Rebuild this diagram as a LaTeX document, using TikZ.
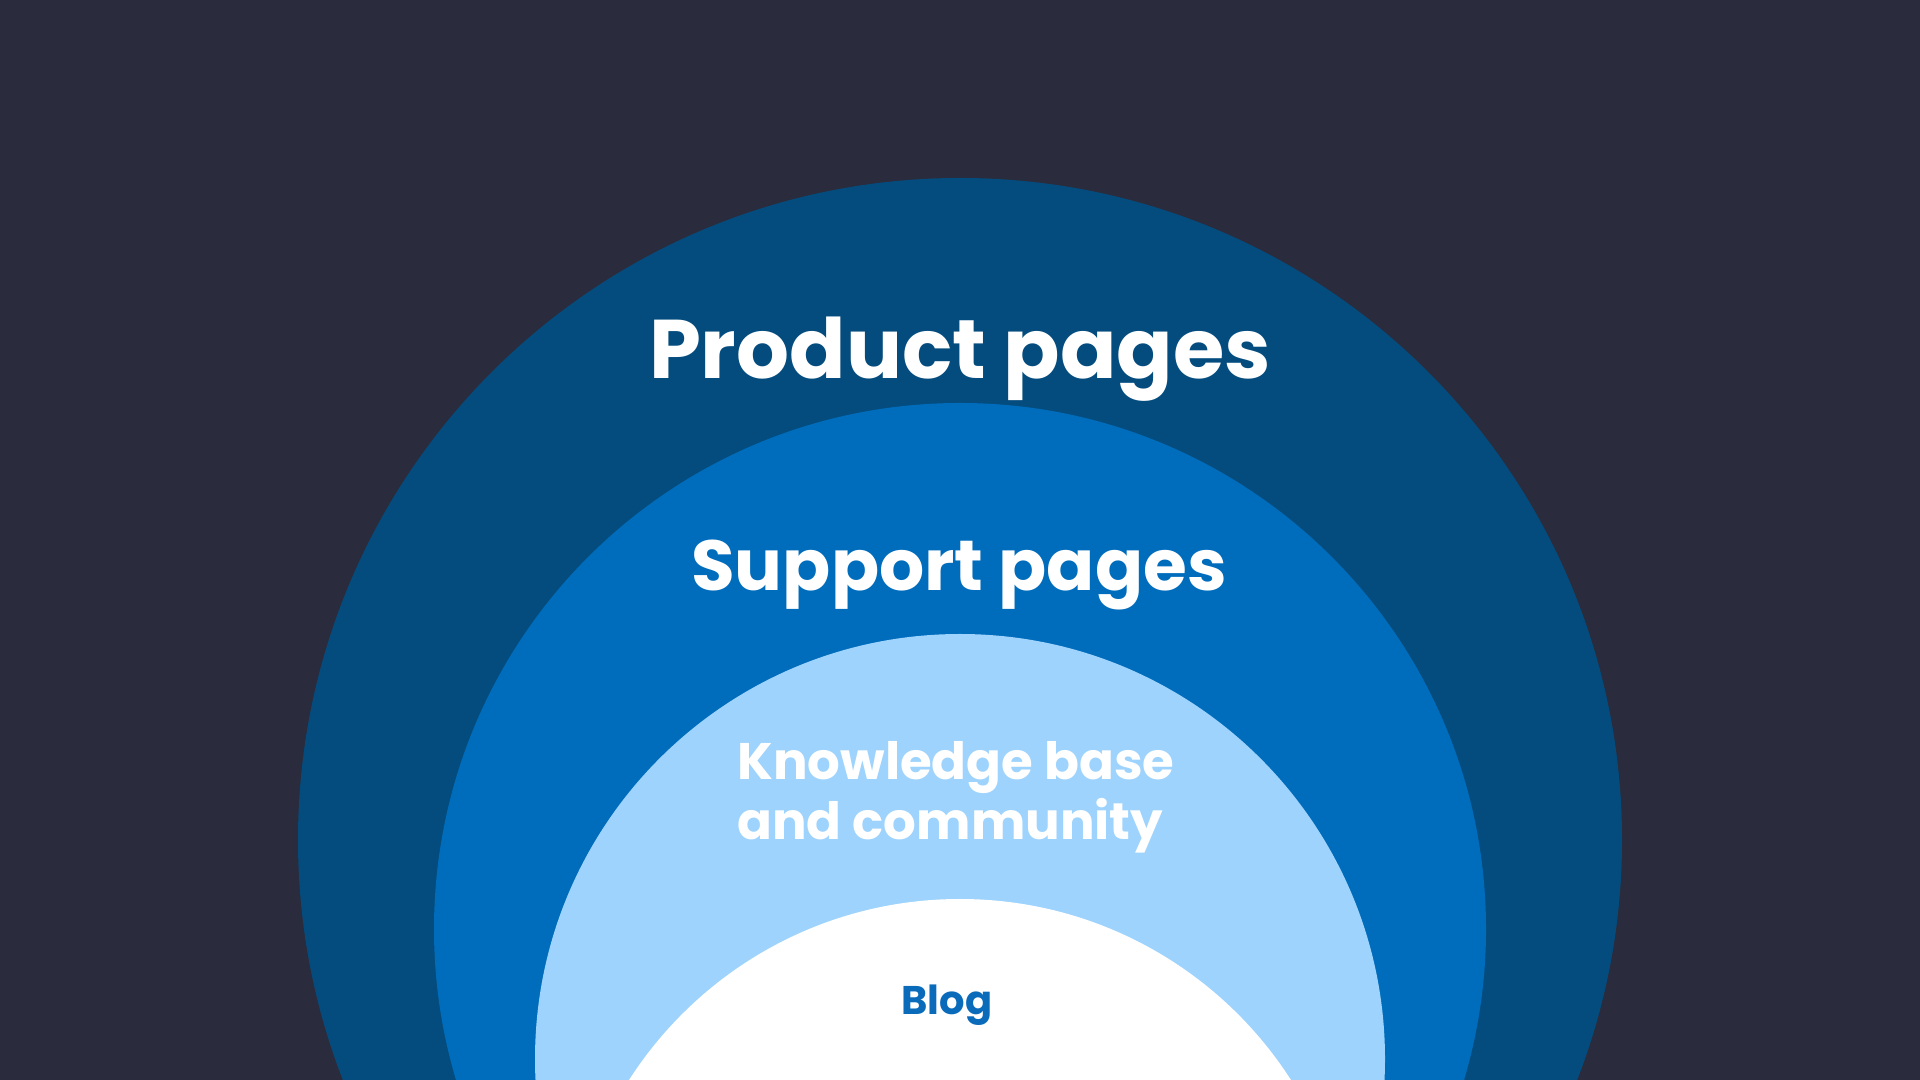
\documentclass[tikz,border=0pt]{standalone}
\usepackage{fontspec}
\setmainfont{Poppins}
\definecolor{bgdark}{HTML}{2A2B3C}
\definecolor{ringouter}{HTML}{044C7E}
\definecolor{ringmid}{HTML}{006CBC}
\definecolor{ringinner}{HTML}{9DD3FD}
\definecolor{blogblue}{HTML}{0A6BBB}

\begin{document}
\begin{tikzpicture}[x=0.5pt,y=0.5pt,
  lbl/.style={inner sep=0pt,text=white},
  bigfont/.style={font=\fontsize{41.6}{50}\selectfont\bfseries},
  midfont/.style={font=\fontsize{35.5}{42}\selectfont\bfseries},
  smallfont/.style={font=\fontsize{25.7}{30}\selectfont\bfseries},
  tinyfont/.style={font=\fontsize{20}{24}\selectfont\bfseries}]
\clip (0,0) rectangle (1920,1080);
\fill[bgdark] (0,0) rectangle (1920,1080);
% rings, outside in
\fill[ringouter] (960,240) circle[radius=662];
\fill[ringmid] (960,151) circle[radius=526];
\fill[ringinner] (960,21) circle[radius=425];
\fill[white] (960,-212) circle[radius=393];
% labels
\node[lbl,bigfont,anchor=base] (product) at (960,701) {Product pages};
\node[lbl,midfont,anchor=base] (support) at (959,489) {Support pages};
\node[lbl,smallfont,anchor=base west] (knowledge) at (737,300) {Knowledge base};
\node[lbl,smallfont,anchor=base west] (community) at (737,240) {and community};
\node[lbl,tinyfont,anchor=base,text=blogblue] (blog) at (947,65) {Blog};
\end{tikzpicture}
\end{document}
